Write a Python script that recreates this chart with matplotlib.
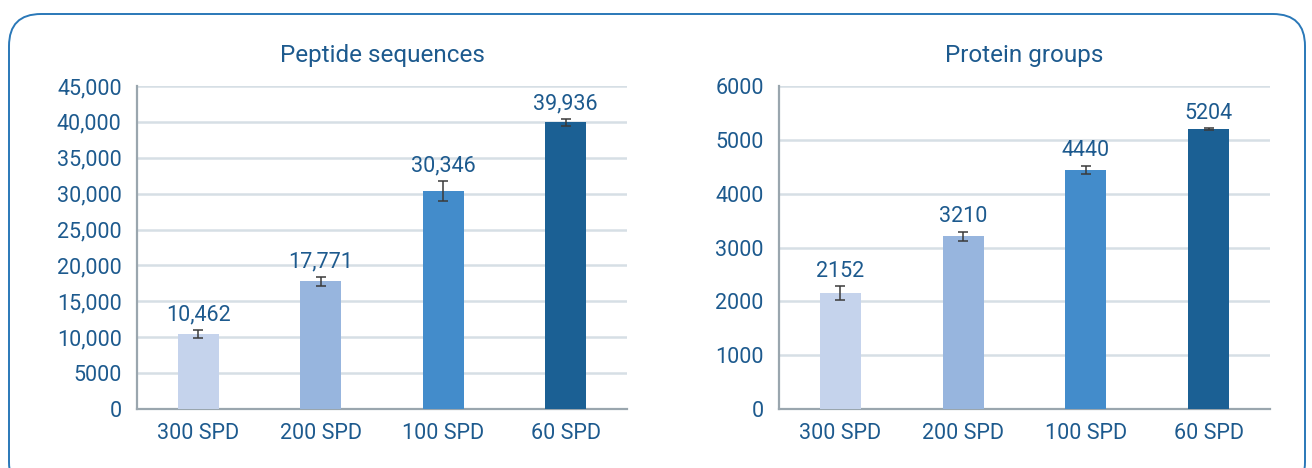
import matplotlib.pyplot as plt
from matplotlib.patches import FancyBboxPatch
from matplotlib.ticker import FuncFormatter

plt.rcParams["font.family"] = ["Roboto", "DejaVu Sans"]

categories = ["300 SPD", "200 SPD", "100 SPD", "60 SPD"]
bar_colors = ["#c5d3ec", "#97b5de", "#438ccb", "#1b6094"]

peptides = [10462, 17771, 30346, 39936]
peptides_err = [580, 620, 1380, 480]

proteins = [2152, 3210, 4440, 5204]
proteins_err = [124, 87, 74, 12]

TEXT = "#1d5a8e"
GRID = "#d6dfe5"
SPINE = "#9aa6ae"


def draw_panel(ax, values, errors, title, ymax, step, fmt):
    x = range(len(categories))
    ax.bar(x, values, width=0.335, color=bar_colors, zorder=3,
           yerr=errors, error_kw=dict(ecolor="#3a3a3a", elinewidth=1.1,
                                      capsize=3.5, capthick=1.1, zorder=4))
    for xi, v, e in zip(x, values, errors):
        ax.text(xi, v + e + ymax * 0.014, fmt(v), ha="center", va="bottom",
                fontsize=15.5, color=TEXT)

    ax.set_xlim(-0.5, len(categories) - 0.5)
    ax.set_ylim(0, ymax)
    ax.set_yticks(range(0, ymax + 1, step))
    ax.yaxis.set_major_formatter(FuncFormatter(lambda v, p: fmt(int(v))))
    ax.set_xticks(list(x))
    ax.set_xticklabels(categories)
    ax.tick_params(axis="both", length=0, labelsize=15.5, labelcolor=TEXT)
    ax.tick_params(axis="x", pad=10)
    ax.tick_params(axis="y", pad=11)
    ax.grid(axis="y", color=GRID, linewidth=1.8, zorder=0)
    for side in ["top", "right"]:
        ax.spines[side].set_visible(False)
    for side in ["left", "bottom"]:
        ax.spines[side].set_color(SPINE)
        ax.spines[side].set_linewidth(1.6)
    ax.set_title(title, fontsize=17.5, color=TEXT, pad=17)


def fmt_thousands(v):
    # 5000 is written without separator in the original
    return f"{v:,}" if v >= 10000 else str(v)


fig = plt.figure(figsize=(13.12, 4.68), dpi=100)

# rounded frame drawn in pixel coordinates
bg = fig.add_axes([0, 0, 1, 1], zorder=-1)
bg.set_xlim(0, 1312)
bg.set_ylim(468, 0)
bg.axis("off")
bg.add_patch(FancyBboxPatch((9, 14), 1296, 480,
                            boxstyle="round,pad=0,rounding_size=32",
                            facecolor="white", edgecolor="#2a78b8",
                            linewidth=1.4))

ax1 = fig.add_axes([0.1044, 0.1261, 0.3735, 0.6901])
draw_panel(ax1, peptides, peptides_err, "Peptide sequences", 45000, 5000,
           fmt_thousands)

ax2 = fig.add_axes([0.5938, 0.1261, 0.3742, 0.6901])
draw_panel(ax2, proteins, proteins_err, "Protein groups", 6000, 1000, str)

fig.savefig("out.png", dpi=100)
